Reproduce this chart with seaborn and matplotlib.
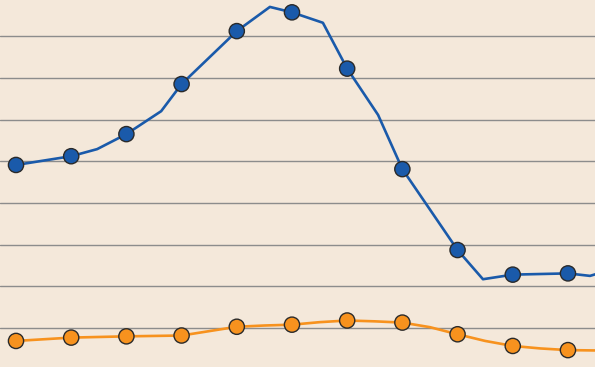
import matplotlib
matplotlib.use("Agg")
import matplotlib.pyplot as plt
import seaborn as sns
import pandas as pd

# Blue series (x = period index, markers at whole periods)
blue_x = [0, 1, 1.47, 2, 2.63, 3, 4, 4.60, 5, 5.56, 6, 6.56, 7, 8, 8.46, 9, 10, 10.40, 10.6]
blue_y = [4.91, 5.12, 5.29, 5.65, 6.20, 6.85, 8.12, 8.70, 8.57, 8.32, 7.22, 6.11, 4.81, 2.87, 2.17, 2.28, 2.31, 2.25, 2.33]

# Orange series
orange_x = [0, 1, 2, 3, 4, 4.5, 5, 5.5, 6, 6.5, 7, 7.5, 8, 8.5, 9, 9.5, 10, 10.6]
orange_y = [0.69, 0.77, 0.80, 0.82, 1.03, 1.06, 1.08, 1.14, 1.18, 1.16, 1.13, 1.02, 0.85, 0.69, 0.57, 0.51, 0.47, 0.46]

grid_values = [1, 2, 3, 4, 5, 6, 7, 8]

BG = "#f4e8da"
BLUE = "#1a5aaa"
ORANGE = "#f7921e"

df = pd.concat([
    pd.DataFrame({"x": blue_x, "y": blue_y, "series": "blue"}),
    pd.DataFrame({"x": orange_x, "y": orange_y, "series": "orange"}),
], ignore_index=True)
df["marker"] = (df["x"] % 1 == 0) & (df["x"] <= 10)

sns.set_theme(style="white")
fig = plt.figure(figsize=(5.95, 3.67), dpi=100)
fig.patch.set_facecolor(BG)
ax = fig.add_axes([0, 0, 1, 1])
ax.set_facecolor(BG)

for v in grid_values:
    ax.axhline(v, color="#8c8c8c", lw=1.0, zorder=1)

palette = {"blue": BLUE, "orange": ORANGE}
sns.lineplot(data=df, x="x", y="y", hue="series", palette=palette,
             estimator=None, sort=True, lw=1.9, legend=False, ax=ax, zorder=2)
sns.scatterplot(data=df[df["marker"]], x="x", y="y", hue="series", palette=palette,
                s=120, edgecolor="#2a2a2a", linewidth=1.0, legend=False, ax=ax, zorder=3)

ax.set_xlim(-0.29, 10.49)
ax.set_ylim(0.065, 8.866)
ax.set_xlabel("")
ax.set_ylabel("")
ax.set_xticks([])
ax.set_yticks([])
for s in ax.spines.values():
    s.set_visible(False)

fig.savefig("out.png", dpi=100, facecolor=BG)
